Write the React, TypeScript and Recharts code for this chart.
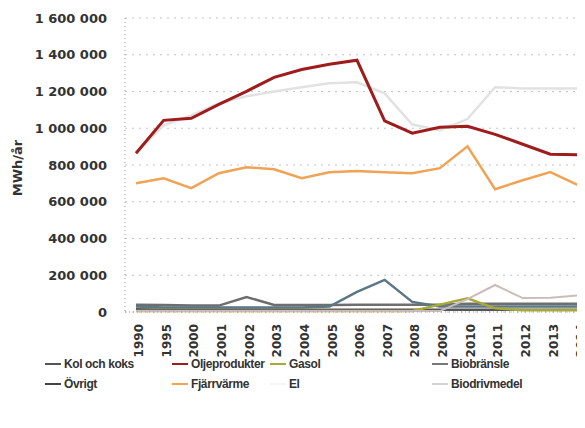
import { LineChart, Line, XAxis, YAxis, CartesianGrid } from 'recharts'

// År
const years = ['1990', '1995', '2000', '2001', '2002', '2003', '2004', '2005', '2006', '2007', '2008', '2009', '2010', '2011', '2012', '2013', '2014']

// MWh/år
const kolOchKoks = [15000, 12000, 12000, 12000, 12000, 12000, 12000, 12000, 12000, 12000, 12000, 12000, 12000, 12000, 12000, 12000, 12000]
const oljeprodukter = [864000, 1043000, 1054000, 1130000, 1201000, 1277000, 1320000, 1348000, 1370000, 1040000, 973000, 1005000, 1011000, 967000, 913000, 859000, 855000]
const gasol = [5000, 5000, 5000, 5000, 5000, 5000, 5000, 5000, 5000, 5000, 5000, 40000, 75000, 20000, 10000, 10000, 10000]
const biobransle = [30000, 25000, 25000, 25000, 25000, 25000, 25000, 30000, 110000, 175000, 55000, 30000, 30000, 30000, 30000, 30000, 30000]
const ovrigt = [40000, 38000, 35000, 35000, 82000, 38000, 38000, 38000, 40000, 40000, 40000, 40000, 45000, 45000, 45000, 45000, 45000]
const fjarrvarme = [701000, 728000, 674000, 755000, 788000, 777000, 728000, 761000, 767000, 761000, 755000, 783000, 902000, 668000, 717000, 761000, 690000]
const el = [864000, 1016000, 1070000, 1136000, 1174000, 1200000, 1223000, 1245000, 1250000, 1190000, 1020000, 990000, 1050000, 1223000, 1217000, 1217000, 1217000]
const biodrivmedel = [5000, 5000, 5000, 5000, 5000, 5000, 5000, 5000, 5000, 5000, 5000, 5000, 70000, 147000, 76000, 78000, 90000]

const yTicks = [0, 200000, 400000, 600000, 800000, 1000000, 1200000, 1400000, 1600000]

const SERIES = [
  { key: 'kol', name: 'Kol och koks', values: kolOchKoks, color: '#555555', width: 2.5 },
  { key: 'ovrigt', name: 'Övrigt', values: ovrigt, color: '#6e6e6e', width: 2.5 },
  { key: 'bio', name: 'Biobränsle', values: biobransle, color: '#5b7684', width: 2.5 },
  { key: 'gasol', name: 'Gasol', values: gasol, color: '#a9a93a', width: 2.5 },
  { key: 'biodriv', name: 'Biodrivmedel', values: biodrivmedel, color: '#cbbcbc', width: 2 },
  { key: 'el', name: 'El', values: el, color: '#e2e2e2', width: 2.5 },
  { key: 'fjarr', name: 'Fjärrvärme', values: fjarrvarme, color: '#f0a255', width: 2.5 },
  { key: 'olja', name: 'Oljeprodukter', values: oljeprodukter, color: '#9e1c1c', width: 3 },
]

const data = years.map((year, i) => {
  const row: Record<string, number | string> = { year }
  SERIES.forEach((s) => {
    row[s.key] = s.values[i]
  })
  return row
})

const LEGEND_ROWS = [
  [
    { name: 'Kol och koks', color: '#555555', x: 37 },
    { name: 'Oljeprodukter', color: '#9e1c1c', x: 164 },
    { name: 'Gasol', color: '#a9a93a', x: 262 },
    { name: 'Biobränsle', color: '#777777', x: 424 },
  ],
  [
    { name: 'Övrigt', color: '#444444', x: 37 },
    { name: 'Fjärrvärme', color: '#f0a255', x: 164 },
    { name: 'El', color: '#f6f6f6', x: 262 },
    { name: 'Biodrivmedel', color: '#d4d4d4', x: 424 },
  ],
]

const fmt = (v: number) => String(v).replace(/\B(?=(\d{3})+(?!\d))/g, ' ')

const XTick = (props: any) => {
  const { x, y, payload } = props
  return (
    <text
      x={x + 3}
      y={y + 4}
      transform={`rotate(-90, ${x + 3}, ${y + 4})`}
      textAnchor="end"
      dy="0.35em"
      fill="#333"
      fontSize={12}
      fontWeight="bold"
      fontFamily="DejaVu Sans"
    >
      {payload.value}
    </text>
  )
}

export default function App() {
  return (
    <div style={{ position: 'relative', width: 577, height: 412, fontFamily: 'DejaVu Sans' }}>
      <LineChart width={577} height={354} data={data} margin={{ top: 10, right: 0, bottom: 0, left: 0 }}>
        <CartesianGrid vertical={false} stroke="#c4c4c4" strokeDasharray="2 5" />
        <XAxis
          dataKey="year"
          interval={0}
          height={50}
          padding={{ left: 11, right: 7 }}
          tick={<XTick />}
          tickLine={false}
          axisLine={{ stroke: '#999', strokeDasharray: '1 3' }}
        />
        <YAxis
          width={117}
          domain={[0, 1600000]}
          ticks={yTicks}
          interval={0}
          tickFormatter={fmt}
          tickLine={false}
          tickMargin={12}
          axisLine={{ stroke: '#999', strokeDasharray: '1 3' }}
          tick={{ fill: '#333', fontSize: 13, fontWeight: 'bold', fontFamily: 'DejaVu Sans' }}
        />
        {SERIES.map((s) => (
          <Line
            key={s.key}
            type="linear"
            dataKey={s.key}
            name={s.name}
            stroke={s.color}
            strokeWidth={s.width}
            dot={false}
            isAnimationActive={false}
          />
        ))}
      </LineChart>

      <div
        style={{
          position: 'absolute',
          left: 9,
          top: 160,
          transform: 'translate(-50%, -50%) rotate(-90deg)',
          fontSize: 13,
          fontWeight: 'bold',
          color: '#333',
          whiteSpace: 'nowrap',
        }}
      >
        MWh/år
      </div>

      {LEGEND_ROWS.map((row, r) =>
        row.map((item) => (
          <div
            key={item.name}
            style={{
              position: 'absolute',
              left: item.x,
              top: 348 + r * 20,
              height: 16,
              display: 'flex',
              alignItems: 'center',
              fontFamily: "'Liberation Sans', sans-serif",
              fontSize: 12,
              letterSpacing: -0.4,
              fontWeight: 'bold',
              color: '#333',
              whiteSpace: 'nowrap',
            }}
          >
            <span style={{ display: 'inline-block', width: 16, height: 2, background: item.color, marginRight: 3 }} />
            {item.name}
          </div>
        ))
      )}
    </div>
  )
}
